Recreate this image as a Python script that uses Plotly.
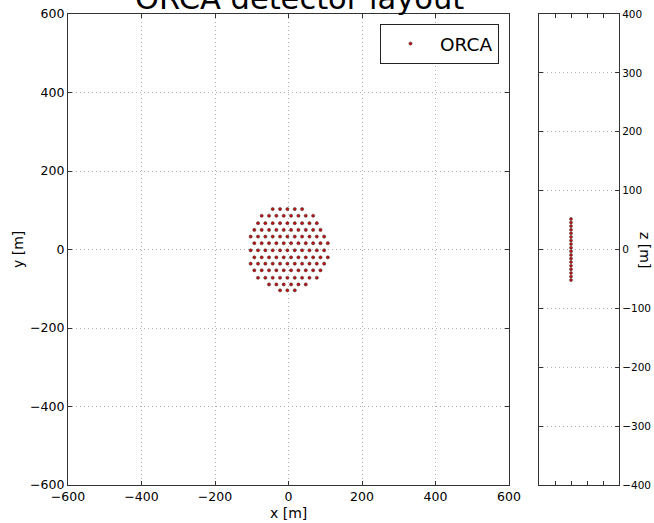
import plotly.graph_objects as go

# ---- data: string (line) positions in the horizontal plane [m] ----
string_x = [
    -43, -23, -3, 17, 37,
    -73, -53, -33, -13, 7, 27, 47, 67,
    -83, -63, -43, -23, -3, 17, 37, 57, 77,
    -93, -73, -53, -33, -13, 7, 27, 47, 67, 87,
    -103, -83, -63, -43, -23, -3, 17, 37, 57, 77, 97,
    -93, -73, -53, -33, -13, 7, 27, 47, 67, 87, 107,
    -103, -83, -63, -43, -23, -3, 17, 37, 57, 77, 97,
    -93, -73, -53, -33, -13, 7, 27, 47, 67, 87, 107,
    -103, -83, -63, -43, -23, -3, 17, 37, 57, 77, 97,
    -93, -73, -53, -33, -13, 7, 27, 47, 67, 87,
    -83, -63, -43, -23, -3, 17, 37, 57, 77,
    -53, -33, -13, 7, 27, 47,
    -23, -3, 17,
]
string_y = (
    [103] * 5 + [86] * 8 + [67] * 9 + [50] * 10 + [33] * 11 + [16] * 11
    + [-2] * 11 + [-20] * 11 + [-36] * 11 + [-53] * 10 + [-72] * 9
    + [-89] * 6 + [-104] * 3
)

# ---- data: DOM heights along one line [m] ----
dom_z = [-52.0, -45.9, -39.8, -33.6, -27.5, -21.4, -15.3, -9.2, -3.1,
         3.1, 9.2, 15.3, 21.4, 27.5, 33.6, 39.8, 45.9, 52.0]
dom_x = [0] * len(dom_z)

xy_ticks = [-600, -400, -200, 0, 200, 400, 600]
z_ticks = [-400, -300, -200, -100, 0, 100, 200, 300, 400]

FONT = "DejaVu Sans"
W, H = 654, 523
ML, MR, MT, MB = 68, 35, 14, 38
PW = W - ML - MR
PH = H - MT - MB

def px_x(p):
    return (p - ML) / PW

def px_y(p):
    return 1 - (p - MT) / PH

marker = dict(size=3.2, color="#c41010", line=dict(width=0.5, color="#333"))

fig = go.Figure()
fig.add_trace(go.Scatter(x=string_x, y=string_y, mode="markers", name="ORCA",
                         marker=marker, xaxis="x", yaxis="y"))
fig.add_trace(go.Scatter(x=dom_x, y=dom_z, mode="markers", name="ORCA",
                         marker=dict(size=3, color="#c41010",
                                     line=dict(width=0.5, color="#333")),
                         xaxis="x2", yaxis="y2", showlegend=False))

axis_common = dict(showline=True, linecolor="#333", linewidth=1.2, mirror="allticks",
                   ticks="inside", ticklen=4, tickcolor="#333",
                   gridcolor="#b0b0b0", griddash="1px,3px", gridwidth=1,
                   zeroline=False, automargin=False,
                   tickfont=dict(family=FONT, size=12.5, color="black"))

fig.update_layout(
    width=W, height=H,
    margin=dict(l=ML, r=MR, t=MT, b=MB, autoexpand=False),
    paper_bgcolor="white", plot_bgcolor="white",
    font=dict(family=FONT, color="black"),
    xaxis=dict(domain=[0, px_x(509)], range=[-600, 600], tickvals=xy_ticks,
               anchor="y", **axis_common),
    yaxis=dict(domain=[0, 1], range=[-600, 600], tickvals=xy_ticks,
               anchor="x", **axis_common),
    xaxis2=dict(domain=[px_x(539), 1], range=[-2, 3], tickvals=[-1, 0, 1, 2],
                showticklabels=False, showgrid=False, anchor="y2", automargin=False,
                showline=True, linecolor="#333", linewidth=1.2, mirror="allticks",
                ticks="inside", ticklen=4, tickcolor="#333", zeroline=False),
    yaxis2=dict(domain=[0, 1], range=[-400, 400], tickvals=z_ticks, anchor="x2",
                side="right",
                **{**axis_common, "tickfont": dict(family=FONT, size=10.5, color="black")}),
    showlegend=True,
    legend=dict(x=px_x(499), y=px_y(24), xanchor="right", yanchor="top",
                bordercolor="#222", borderwidth=1, bgcolor="white",
                itemsizing="trace", itemwidth=49,
                font=dict(family=FONT, size=18.5, color="black")),
    annotations=[
        dict(text="ORCA detector layout", xref="paper", yref="paper",
             x=px_x(299), y=1 + (MT + 2.0) / PH, xanchor="center", yanchor="middle",
             showarrow=False, font=dict(family=FONT, size=30.5, color="black")),
        dict(text="x [m]", xref="paper", yref="paper",
             x=px_x(288.5), y=px_y(513), xanchor="center", yanchor="middle",
             showarrow=False, font=dict(family=FONT, size=14, color="black")),
        dict(text="y [m]", xref="paper", yref="paper",
             x=px_x(18), y=px_y(250), xanchor="center", yanchor="middle",
             textangle=-90, showarrow=False,
             font=dict(family=FONT, size=14, color="black")),
        dict(text="z [m]", xref="paper", yref="paper",
             x=px_x(645), y=px_y(250), xanchor="center", yanchor="middle",
             textangle=90, showarrow=False,
             font=dict(family=FONT, size=14, color="black")),
    ],
)

fig.write_html("out.html")
